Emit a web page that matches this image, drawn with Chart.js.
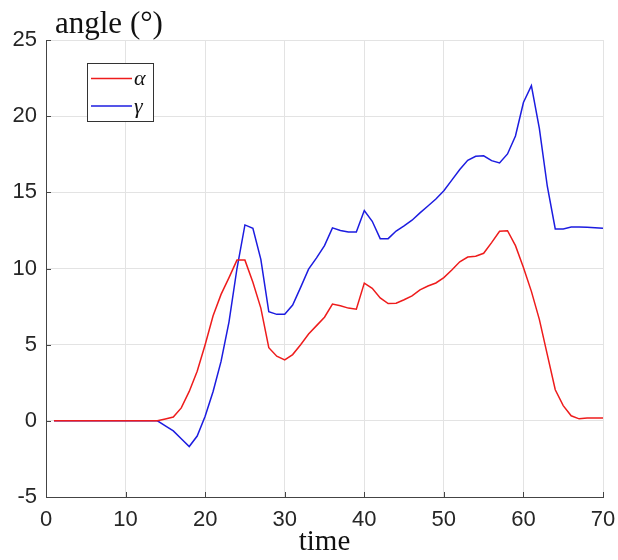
<!DOCTYPE html>
<html>
<head>
<meta charset="utf-8">
<script src="https://cdn.jsdelivr.net/npm/chart.js@4.4.1/dist/chart.umd.min.js"></script>
<style>
  body { margin: 0; background: #fff; }
  canvas { display: block; }
</style>
</head>
<body>
<canvas id="angles" width="618" height="560"></canvas>
<script>
// sample times
const time = [1, 2, 3, 4, 5, 6, 7, 8, 9, 10,
    11, 12, 13, 14, 15, 16, 17, 18, 19, 20,
    21, 22, 23, 24, 25, 26, 27, 28, 29, 30,
    31, 32, 33, 34, 35, 36, 37, 38, 39, 40,
    41, 42, 43, 44, 45, 46, 47, 48, 49, 50,
    51, 52, 53, 54, 55, 56, 57, 58, 59, 60,
    61, 62, 63, 64, 65, 66, 67, 68, 69, 70];

const alpha = [0, 0, 0, 0, 0, 0, 0, 0, 0, 0,
    0, 0, 0, 0, 0.12, 0.25, 0.85, 1.93, 3.25, 5.0,
    6.9, 8.3, 9.4, 10.55, 10.55, 9.1, 7.4, 4.8, 4.24, 4.0,
    4.35, 5.0, 5.7, 6.25, 6.8, 7.67, 7.55, 7.4, 7.33, 9.04,
    8.7, 8.07, 7.7, 7.72, 7.95, 8.2, 8.6, 8.85, 9.05, 9.4,
    9.9, 10.44, 10.75, 10.8, 11.0, 11.7, 12.44, 12.48, 11.5, 10.07,
    8.5, 6.66, 4.35, 2.04, 1.0, 0.33, 0.13, 0.18, 0.18, 0.18];

const gamma = [0, 0, 0, 0, 0, 0, 0, 0, 0, 0,
    0, 0, 0, 0, -0.33, -0.66, -1.18, -1.69, -1.0, 0.3,
    1.93, 3.9, 6.5, 10.0, 12.86, 12.64, 10.6, 7.16, 6.99, 6.99,
    7.6, 8.76, 9.96, 10.7, 11.5, 12.67, 12.5, 12.39, 12.39, 13.8,
    13.1, 11.96, 11.96, 12.46, 12.8, 13.17, 13.65, 14.1, 14.56, 15.1,
    15.8, 16.5, 17.1, 17.37, 17.4, 17.08, 16.93, 17.52, 18.7, 20.9,
    22.0, 19.2, 15.4, 12.6, 12.6, 12.72, 12.72, 12.7, 12.68, 12.65];

const xTicks = [0, 10, 20, 30, 40, 50, 60, 70];
const yTicks = [-5, 0, 5, 10, 15, 20, 25];

const seriesLabels = ['\u03b1', '\u03b3'];
const seriesColors = ['#ee1c1c', '#1c1ce0'];

const toPoints = (ys) => time.map((t, i) => ({ x: t, y: ys[i] }));

// titles and the boxed legend, matlab style
const decorations = {
    id: 'decorations',
    afterDraw(chart) {
        const ctx = chart.ctx;
        const area = chart.chartArea;
        const xs = chart.scales.x;
        const ys = chart.scales.y;

        ctx.save();
        // inward tick marks
        ctx.strokeStyle = '#444';
        ctx.lineWidth = 1;
        ctx.beginPath();
        xTicks.forEach(v => {
            const px = Math.round(xs.getPixelForValue(v)) + 0.5;
            ctx.moveTo(px, area.bottom);
            ctx.lineTo(px, area.bottom - 5);
        });
        yTicks.forEach(v => {
            const py = Math.round(ys.getPixelForValue(v)) + 0.5;
            ctx.moveTo(area.left, py);
            ctx.lineTo(area.left + 5, py);
        });
        ctx.stroke();

        // axis titles
        ctx.fillStyle = '#111';
        ctx.font = '31px "Liberation Serif", "Times New Roman", serif';
        ctx.textAlign = 'left';
        ctx.textBaseline = 'alphabetic';
        ctx.fillText('angle (\u00b0)', 55, 33);
        ctx.font = '29px "Liberation Serif", "Times New Roman", serif';
        ctx.textAlign = 'center';
        ctx.fillText('time', (area.left + area.right) / 2, 550);

        // legend box
        ctx.fillStyle = '#fff';
        ctx.fillRect(87.5, 63.5, 66, 58);
        ctx.strokeStyle = '#333';
        ctx.strokeRect(87.5, 63.5, 66, 58);
        const rows = [78.5, 106];
        chart.data.datasets.forEach((ds, i) => {
            ctx.strokeStyle = ds.borderColor;
            ctx.lineWidth = 1.5;
            ctx.beginPath();
            ctx.moveTo(91, rows[i]);
            ctx.lineTo(132, rows[i]);
            ctx.stroke();
            ctx.fillStyle = '#111';
            ctx.font = 'italic 22px "Liberation Serif", "Times New Roman", serif';
            ctx.textAlign = 'left';
            ctx.textBaseline = 'middle';
            ctx.fillText(ds.label, 134, rows[i] + 1);
        });
        ctx.restore();
    }
};

const tickFont = { family: '"Liberation Sans", Arial, sans-serif', size: 22 };

new Chart(document.getElementById('angles'), {
    type: 'line',
    data: {
        datasets: [
            { label: seriesLabels[0], data: toPoints(alpha), borderColor: seriesColors[0] },
            { label: seriesLabels[1], data: toPoints(gamma), borderColor: seriesColors[1] }
        ]
    },
    options: {
        responsive: false,
        animation: false,
        layout: { padding: { top: 40, right: 15, left: 0, bottom: 0 } },
        elements: {
            line: { borderWidth: 1.5, tension: 0, fill: false },
            point: { radius: 0, hoverRadius: 0 }
        },
        plugins: {
            legend: { display: false },
            tooltip: { enabled: false }
        },
        scales: {
            x: {
                type: 'linear',
                min: 0,
                max: 70,
                afterBuildTicks: (s) => { s.ticks = xTicks.map(v => ({ value: v })); },
                afterFit: (s) => {
                    s.height = 63;
                    s.paddingLeft = 0;
                    s.paddingRight = 0;
                },
                ticks: { font: tickFont, color: '#262626', padding: 10, maxRotation: 0 },
                grid: { color: '#e3e3e3', drawTicks: false },
                border: { color: '#444', width: 1 }
            },
            y: {
                min: -5,
                max: 25,
                afterBuildTicks: (s) => { s.ticks = yTicks.map(v => ({ value: v })); },
                afterFit: (s) => { s.width = 46; },
                ticks: { font: tickFont, color: '#262626', padding: 9 },
                grid: { color: '#e3e3e3', drawTicks: false },
                border: { color: '#444', width: 1 }
            }
        }
    },
    plugins: [decorations]
});
</script>
</body>
</html>
